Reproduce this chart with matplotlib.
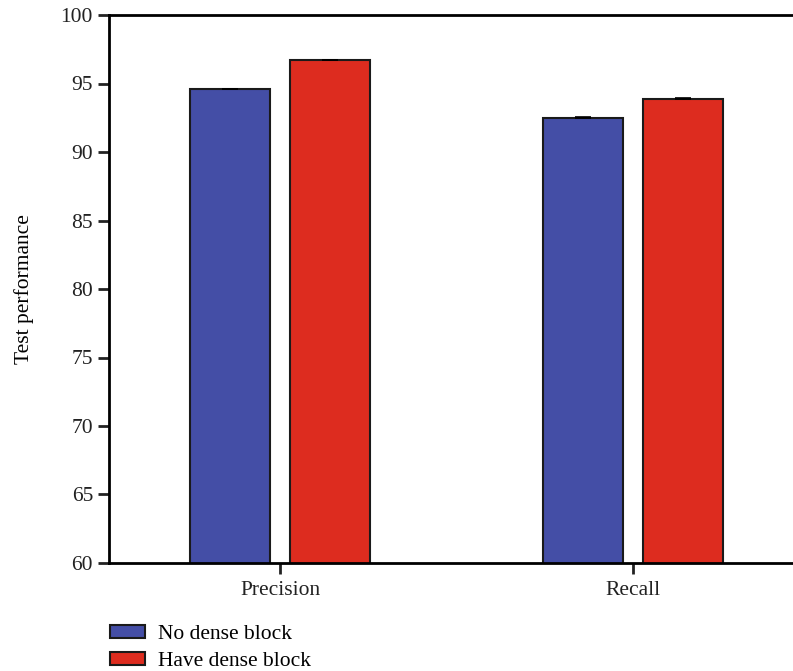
import numpy as np
import matplotlib.pyplot as plt
from matplotlib.patches import Patch

plt.rcParams['font.family'] = ['Liberation Serif', 'DejaVu Serif']

# Data
categories = ['Precision', 'Recall']
series_names = ['No dense block', 'Have dense block']
no_dense = [94.6, 92.5]
have_dense = [96.7, 93.9]
no_dense_err = [0.02, 0.02]
have_dense_err = [0.02, 0.02]
colors = ['#444EA6', '#DD2C1F']

fig = plt.figure(figsize=(7.93, 6.71), dpi=100)
ax = fig.add_axes([109 / 793, 1 - 563 / 671, (793 - 109) / 793, (563 - 15) / 671])

x = np.arange(len(categories))
w = 0.227
off = 0.1418
ax.bar(x - off, no_dense, w, yerr=no_dense_err, color=colors[0], edgecolor='#1a1a1a',
       linewidth=1.5, capsize=6, error_kw=dict(elinewidth=1, capthick=1.2, ecolor='black'))
ax.bar(x + off, have_dense, w, yerr=have_dense_err, color=colors[1], edgecolor='#1a1a1a',
       linewidth=1.5, capsize=6, error_kw=dict(elinewidth=1, capthick=1.2, ecolor='black'))

fs = 15.5
ax.set_ylim(60, 100)
ax.set_yticks(np.arange(60, 101, 5))
ax.set_xlim(-0.485, 1.454)
ax.set_xticks(x)
ax.set_xticklabels(categories)
ax.set_ylabel('Test performance', fontsize=fs, labelpad=19)

ax.spines['right'].set_visible(False)
for s in ['left', 'bottom', 'top']:
    ax.spines[s].set_linewidth(2)
ax.tick_params(axis='both', labelsize=fs, width=2, length=8, colors='#222222')
ax.tick_params(axis='x', pad=5)

handles = [Patch(facecolor=c, edgecolor='#1a1a1a', linewidth=1.5) for c in colors]
fig.legend(handles, series_names, loc='upper left', bbox_to_anchor=(0.139, 1 - 625 / 671),
           frameon=False, fontsize=fs, handlelength=1.63, handleheight=0.56,
           handletextpad=0.6, labelspacing=0.35, borderpad=0, borderaxespad=0)

fig.savefig('out.png', dpi=100)
